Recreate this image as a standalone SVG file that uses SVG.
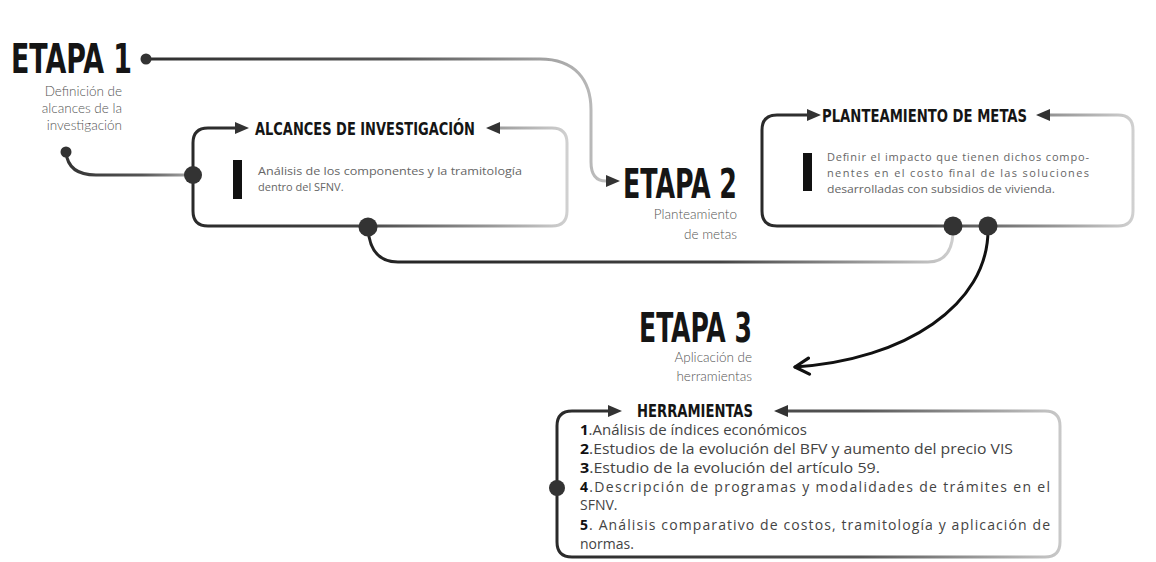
<svg xmlns="http://www.w3.org/2000/svg" width="1156" height="562" viewBox="0 0 1156 562">
  <defs>
    <style>
      .stage { font-family: "Liberation Sans Narrow", "DejaVu Sans Condensed", sans-serif; font-weight: bold; font-size: 40px; fill: #151515; }
      .head { font-family: "Liberation Sans Narrow", "DejaVu Sans Condensed", sans-serif; font-weight: bold; font-size: 18px; fill: #151515; }
      .sub { font-family: Lato, "Open Sans", sans-serif; font-weight: 300; font-size: 13.5px; fill: #555; text-anchor: end; }
      .body { font-family: "Open Sans", Lato, sans-serif; font-weight: 400; font-size: 11px; fill: #666; }
      .item { font-family: "Open Sans", Lato, sans-serif; font-weight: 400; font-size: 14px; fill: #444; }
      .item tspan.n { font-weight: bold; fill: #111; }
      .dot { fill: #333; }
      .bar { fill: #111; }
      .box { fill: none; stroke-width: 3; stroke-linejoin: round; marker-start: url(#tri); marker-end: url(#tri); }
      .link { fill: none; stroke-width: 3; stroke-linecap: round; }
    </style>
    <marker id="tri" viewBox="0 0 14 12" refX="0" refY="6" markerWidth="14" markerHeight="12" markerUnits="userSpaceOnUse" orient="auto-start-reverse">
      <path d="M0,0 L14,6 L0,12 z" fill="#333"/>
    </marker>
    <marker id="chev" viewBox="0 0 18 20" refX="16" refY="10" markerWidth="18" markerHeight="20" markerUnits="userSpaceOnUse" orient="auto">
      <path d="M2,2 L16,10 L2,18" fill="none" stroke="#111" stroke-width="3.2" stroke-linecap="round" stroke-linejoin="round"/>
    </marker>
    <linearGradient id="gBox" x1="0" y1="0" x2="1" y2="0">
      <stop offset="0" stop-color="#2a2a2a"/>
      <stop offset="0.45" stop-color="#444"/>
      <stop offset="0.8" stop-color="#999"/>
      <stop offset="1" stop-color="#d0d0d0"/>
    </linearGradient>
    <linearGradient id="gHerr" x1="0" y1="0" x2="1" y2="0">
      <stop offset="0" stop-color="#2a2a2a"/>
      <stop offset="0.6" stop-color="#555"/>
      <stop offset="1" stop-color="#c8c8c8"/>
    </linearGradient>
    <linearGradient id="gTop" gradientUnits="userSpaceOnUse" x1="146" y1="0" x2="600" y2="0">
      <stop offset="0" stop-color="#2e2e2e"/>
      <stop offset="0.55" stop-color="#555"/>
      <stop offset="1" stop-color="#bdbdbd"/>
    </linearGradient>
    <linearGradient id="gLow" gradientUnits="userSpaceOnUse" x1="368" y1="0" x2="955" y2="0">
      <stop offset="0" stop-color="#222"/>
      <stop offset="0.6" stop-color="#444"/>
      <stop offset="1" stop-color="#cfcfcf"/>
    </linearGradient>
    <linearGradient id="gSide" gradientUnits="userSpaceOnUse" x1="66" y1="0" x2="193" y2="0">
      <stop offset="0" stop-color="#333"/>
      <stop offset="0.6" stop-color="#555"/>
      <stop offset="1" stop-color="#aaa"/>
    </linearGradient>
  </defs>

  <rect width="1156" height="562" fill="#fff"/>

  <!-- connectors -->
  <g id="connectors">
    <path class="link" stroke="url(#gTop)" d="M146,59 H540 C575,59 591,80 591,110 V162 Q591,181 606,181" marker-end="url(#tri)"/>
    <path class="link" stroke="url(#gSide)" d="M66,152 Q68,175 96,175 H186"/>
    <path class="link" stroke="url(#gLow)" d="M368,228 Q370,262 398,262 H928 Q951,262 953,234"/>
    <path class="link" stroke="#111" stroke-width="3.2" d="M988,230 C988,305 905,360 795,367" marker-end="url(#chev)"/>
    <circle class="dot" cx="146" cy="59" r="5.5"/>
    <circle class="dot" cx="66" cy="152" r="5.5"/>
  </g>

  <!-- stage 1 -->
  <g id="etapa1">
    <text class="stage" x="11" y="73" textLength="121" lengthAdjust="spacingAndGlyphs">ETAPA 1</text>
    <text class="sub" x="122" y="96">Definición de</text>
    <text class="sub" x="122" y="113">alcances de la</text>
    <text class="sub" x="122" y="130">investigación</text>
  </g>

  <!-- stage 2 -->
  <g id="etapa2">
    <text class="stage" x="623" y="198" textLength="114" lengthAdjust="spacingAndGlyphs">ETAPA 2</text>
    <text class="sub" x="737" y="219">Planteamiento</text>
    <text class="sub" x="737" y="239">de metas</text>
  </g>

  <!-- stage 3 -->
  <g id="etapa3">
    <text class="stage" x="639" y="342" textLength="113" lengthAdjust="spacingAndGlyphs">ETAPA 3</text>
    <text class="sub" x="752" y="362">Aplicación de</text>
    <text class="sub" x="752" y="381">herramientas</text>
  </g>

  <!-- scope box -->
  <g id="alcances">
    <path class="box" stroke="url(#gBox)" d="M235,128 H208 Q193,128 193,143 V211 Q193,226 208,226 H552 Q567,226 567,211 V143 Q567,128 552,128 H500"/>
    <text class="head" x="255" y="135" textLength="220" lengthAdjust="spacingAndGlyphs">ALCANCES DE INVESTIGACIÓN</text>
    <rect class="bar" x="233" y="160" width="9" height="39"/>
    <text class="body" x="258" y="175" textLength="264" lengthAdjust="spacingAndGlyphs">Análisis de los componentes y la tramitología</text>
    <text class="body" x="258" y="191">dentro del SFNV.</text>
    <circle class="dot" cx="193" cy="175" r="9"/>
    <circle class="dot" cx="368" cy="227" r="9.5"/>
  </g>

  <!-- goals box -->
  <g id="planteamiento">
    <path class="box" stroke="url(#gBox)" d="M807,115 H777 Q762,115 762,130 V211 Q762,226 777,226 H1118 Q1133,226 1133,211 V130 Q1133,115 1118,115 H1050"/>
    <text class="head" x="822" y="122" textLength="205" lengthAdjust="spacingAndGlyphs">PLANTEAMIENTO DE METAS</text>
    <rect class="bar" x="803" y="153" width="9" height="38"/>
    <text class="body" x="827" y="161" textLength="262" lengthAdjust="spacing">Definir el impacto que tienen dichos compo-</text>
    <text class="body" x="827" y="177" textLength="262" lengthAdjust="spacing">nentes en el costo final de las soluciones</text>
    <text class="body" x="827" y="193" textLength="228" lengthAdjust="spacingAndGlyphs">desarrolladas con subsidios de vivienda.</text>
    <circle class="dot" cx="953" cy="226" r="9.5"/>
    <circle class="dot" cx="988" cy="226" r="9.5"/>
  </g>

  <!-- tools box -->
  <g id="herramientas">
    <path class="box" stroke="url(#gHerr)" d="M608,411 H572 Q557,411 557,426 V542 Q557,557 572,557 H1045 Q1060,557 1060,542 V426 Q1060,411 1045,411 H788"/>
    <text class="head" x="637" y="417" textLength="116" lengthAdjust="spacingAndGlyphs">HERRAMIENTAS</text>
    <text class="item" x="580" y="435" textLength="227" lengthAdjust="spacingAndGlyphs"><tspan class="n">1</tspan>.Análisis de índices económicos</text>
    <text class="item" x="580" y="454" textLength="433" lengthAdjust="spacingAndGlyphs"><tspan class="n">2</tspan>.Estudios de la evolución del BFV y aumento del precio VIS</text>
    <text class="item" x="580" y="473" textLength="300" lengthAdjust="spacingAndGlyphs"><tspan class="n">3</tspan>.Estudio de la evolución del artículo 59.</text>
    <text class="item" x="580" y="492" textLength="470" lengthAdjust="spacing"><tspan class="n">4</tspan>.Descripción de programas y modalidades de trámites en el</text>
    <text class="item" x="580" y="510">SFNV.</text>
    <text class="item" x="580" y="530" textLength="470" lengthAdjust="spacing"><tspan class="n">5</tspan>. Análisis comparativo de costos, tramitología y aplicación de</text>
    <text class="item" x="580" y="549">normas.</text>
    <circle class="dot" cx="557" cy="488" r="8"/>
  </g>
</svg>
